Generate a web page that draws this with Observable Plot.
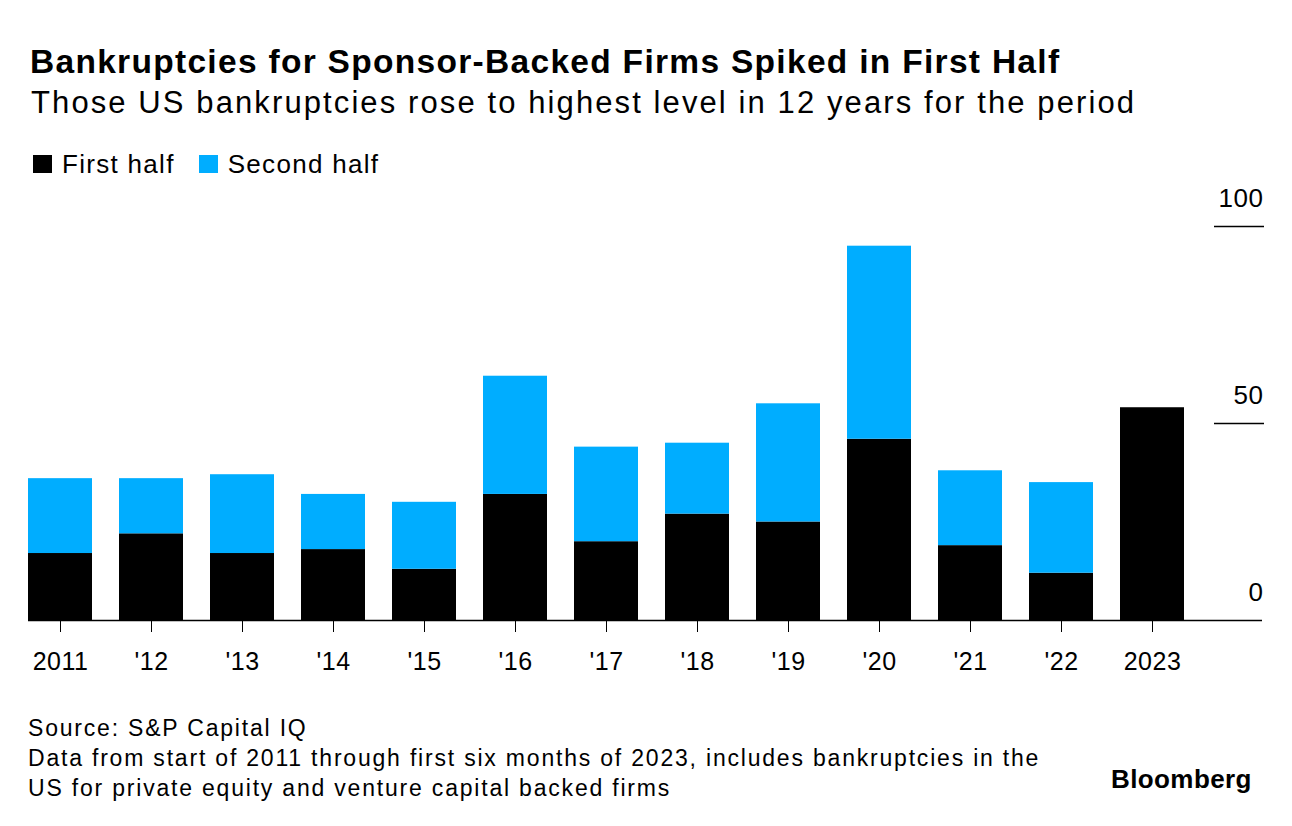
<!DOCTYPE html>
<html>
<head>
<meta charset="utf-8">
<script src="https://cdn.jsdelivr.net/npm/d3@7"></script>
<script src="https://cdn.jsdelivr.net/npm/@observablehq/plot@0.6"></script>
<style>
  html, body { margin: 0; padding: 0; background: #fff; }
  body { width: 1292px; height: 826px; position: relative; overflow: hidden; font-family: "Liberation Sans", Arial, sans-serif; color: #000; }
  .abs { position: absolute; white-space: nowrap; }
  #title { left: 30px; top: 42px; font-size: 33.5px; font-weight: bold; line-height: 40px; letter-spacing: 1.3px; }
  #subtitle { left: 31px; top: 85px; font-size: 31px; line-height: 36px; letter-spacing: 2.1px; }
  #legend { left: 33px; top: 149px; font-size: 26px; line-height: 30px; letter-spacing: 1.3px; display: flex; align-items: center; }
  .sw { display: inline-block; width: 19px; height: 18px; margin-right: 10px; }
  .item { display: flex; align-items: center; margin-right: 24px; }
  #chart { left: 0; top: 180px; }
  #chart svg { overflow: visible; }
  #caption { left: 28px; top: 713px; font-size: 23px; line-height: 30px; letter-spacing: 1.8px; }
  #logo { left: 1111px; top: 764px; font-size: 26px; line-height: 30px; font-weight: bold; letter-spacing: 0.4px; }
</style>
</head>
<body>
<div id="title" class="abs">Bankruptcies for Sponsor-Backed Firms Spiked in First Half</div>
<div id="subtitle" class="abs">Those US bankruptcies rose to highest level in 12 years for the period</div>
<div id="legend" class="abs"></div>
<div id="chart" class="abs"></div>
<div id="caption" class="abs">Source: S&amp;P Capital IQ<br>Data from start of 2011 through first six months of 2023, includes bankruptcies in the<br>US for private equity and venture capital backed firms</div>
<div id="logo" class="abs">Bloomberg</div>
<script>
const years = [2011, 2012, 2013, 2014, 2015, 2016, 2017, 2018, 2019, 2020, 2021, 2022, 2023];
const firstHalf = [17, 22, 17, 18, 13, 32, 20, 27, 25, 46, 19, 12, 54];
const secondHalf = [19, 14, 20, 14, 17, 30, 24, 18, 30, 49, 19, 23, 0];
const seriesNames = ["First half", "Second half"];
const seriesColors = ["#000000", "#00adff"];
const yTicks = [0, 50, 100];

const rows = [];
years.forEach((y, i) => {
  rows.push({year: y, series: seriesNames[0], value: firstHalf[i]});
  rows.push({year: y, series: seriesNames[1], value: secondHalf[i]});
});

const legend = document.getElementById("legend");
seriesNames.forEach((n, i) => {
  const it = document.createElement("span");
  it.className = "item";
  it.innerHTML = `<span class="sw" style="background:${seriesColors[i]}"></span>${n}`;
  legend.appendChild(it);
});

const fmt = y => (y === 2011 || y === 2023) ? String(y) : "'" + String(y).slice(2);

const chart = Plot.plot({
  width: 1292,
  height: 500,
  marginTop: 46,
  marginBottom: 60,
  marginLeft: 28,
  marginRight: 108,
  style: {fontFamily: "'Liberation Sans', Arial, sans-serif", fontSize: "25px", color: "#000", background: "transparent", letterSpacing: "0.5px", overflow: "visible"},
  x: {type: "band", domain: years, paddingInner: 0.3, paddingOuter: 0, label: null},
  y: {domain: [0, 100], label: null, axis: null},
  color: {domain: seriesNames, range: seriesColors},
  marks: [
    Plot.barY(rows, Plot.stackY({x: "year", y: "value", fill: "series", order: seriesNames})),
    Plot.axisX({tickSize: 12, tickPadding: 20, tickFormat: fmt, fontSize: 25, stroke: "#000", label: null}),
    Plot.ruleY([0], {stroke: "#000", strokeWidth: 1.5, insetRight: -78}),
    Plot.ruleY([50, 100], {stroke: "#000", strokeWidth: 1.5, insetLeft: 1186, insetRight: -80}),
    Plot.text(yTicks, {y: d => d, text: d => String(d), frameAnchor: "right", dx: 79, dy: -28, textAnchor: "end", fontSize: 26, fill: "#000"})
  ]
});
document.getElementById("chart").appendChild(chart);
</script>
</body>
</html>
